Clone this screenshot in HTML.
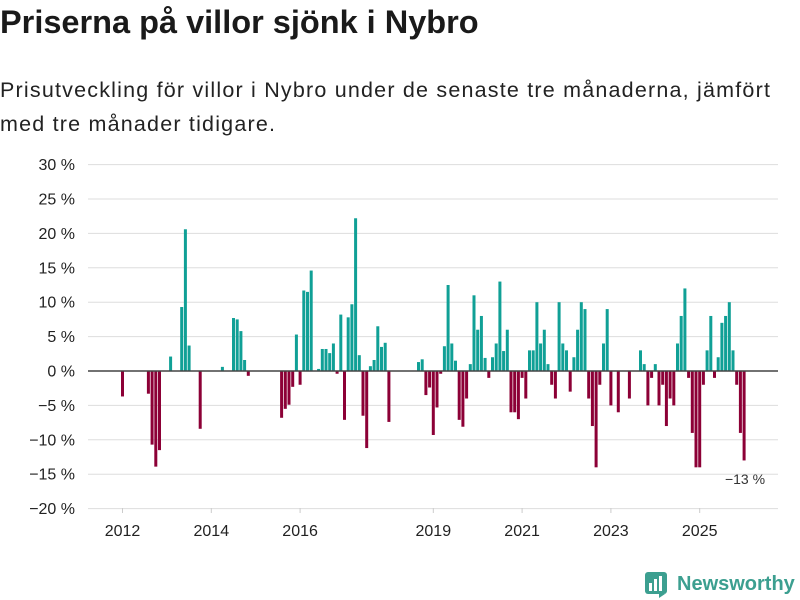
<!DOCTYPE html>
<html><head><meta charset="utf-8"><style>
body{margin:0;width:800px;height:600px;background:#fff;font-family:"Liberation Sans",sans-serif;color:#222;overflow:hidden;position:relative}
#title{position:absolute;left:0;top:4px;font-size:32.5px;font-weight:bold;margin:0;color:#1a1a1a}
#sub{position:absolute;left:0;top:73px;font-size:21.5px;line-height:34px;width:790px;color:#222;letter-spacing:1.2px}
svg{position:absolute;left:0;top:0}
</style></head><body>
<h1 id="title">Priserna på villor sjönk i Nybro</h1>
<div id="sub">Prisutveckling för villor i Nybro under de senaste tre månaderna, jämfört med tre månader tidigare.</div>
<svg id="chart" width="800" height="600"></svg>
<script>
const monthIndex=[0,7,8,9,10,13,16,17,18,21,27,30,31,32,33,34,43,44,45,46,47,48,49,50,51,53,54,55,56,57,58,59,60,61,62,63,64,65,66,67,68,69,70,71,72,80,81,82,83,84,85,86,87,88,89,90,91,92,93,94,95,96,97,98,99,100,101,102,103,104,105,106,107,108,109,110,111,112,113,114,115,116,117,118,119,120,121,122,123,124,125,126,127,128,129,130,131,132,134,137,140,141,142,143,144,145,146,147,148,149,150,151,152,153,154,155,156,157,158,159,160,161,162,163,164,165,166,167,168];
const values=[-3.7,-3.3,-10.7,-13.9,-11.5,2.1,9.3,20.6,3.7,-8.4,0.6,7.7,7.5,5.8,1.6,-0.7,-6.8,-5.5,-4.9,-2.3,5.3,-2.0,11.7,11.5,14.6,0.3,3.2,3.2,2.6,4.0,-0.4,8.2,-7.1,7.8,9.7,22.2,2.3,-6.5,-11.2,0.7,1.6,6.5,3.5,4.1,-7.4,1.3,1.7,-3.5,-2.4,-9.3,-5.3,-0.4,3.6,12.5,4.0,1.5,-7.1,-8.1,-4.0,1.0,11.0,6.0,8.0,1.9,-1.0,2.0,4.0,13.0,2.9,6.0,-6.0,-6.0,-7.0,-1.0,-4.0,3.0,3.0,10.0,4.0,6.0,1.0,-2.0,-4.0,10.0,4.0,3.0,-3.0,2.0,6.0,10.0,9.0,-4.0,-8.0,-14.0,-2.0,4.0,9.0,-5.0,-6.0,-4.0,3.0,1.0,-5.0,-1.0,1.0,-5.0,-2.0,-8.0,-4.0,-5.0,4.0,8.0,12.0,-1.0,-9.0,-14.0,-14.0,-2.0,3.0,8.0,-1.0,2.0,7.0,8.0,10.0,3.0,-2.0,-9.0,-13.0];
const yTicks=[30,25,20,15,10,5,0,-5,-10,-15,-20];
const xLabels=["2012","2014","2016","2019","2021","2023","2025"];
const xLabelMonths=[0,24,48,84,108,132,156];
const NS="http://www.w3.org/2000/svg",svg=document.getElementById('chart');
const y=v=>371-v*6.88, x=i=>122.5+i*3.7;
function mk(t,a){const e=document.createElementNS(NS,t);for(const k in a)e.setAttribute(k,a[k]);svg.appendChild(e);return e;}
yTicks.forEach(t=>{
 const l=mk('line',{x1:88,x2:778,y1:y(t),y2:y(t),stroke:'#ddd','stroke-width':1});
 
 
 const tx=mk('text',{x:75,y:y(t)+5.5,'text-anchor':'end','font-size':16,fill:'#222'});
 tx.textContent=(t<0?'\u2212'+(-t):t)+' %';
 
 
});
xLabels.forEach((s,k)=>{
 const tx=mk('text',{x:x(xLabelMonths[k]),y:536,'text-anchor':'middle','font-size':16,fill:'#222'});
 tx.textContent=s;
 
 
 const tk=mk('line',{x1:x(xLabelMonths[k]),x2:x(xLabelMonths[k]),y1:508,y2:513,stroke:'#ccc'});
 
 
});
monthIndex.forEach((m,k)=>{
 const v=values[k];
 const r=mk('rect',{x:x(m)-1.5,width:3,y:Math.min(y(v),y(0)),height:Math.abs(y(v)-y(0)),fill:v>=0?'#10a096':'#8c0036'});
 
 
});
const z=mk('line',{x1:88,x2:778,y1:y(0),y2:y(0),stroke:'#444','stroke-width':1.5});


const lastV=values[values.length-1];
const an=mk('text',{x:745,y:484,'text-anchor':'middle','font-size':14,fill:'#333'});
an.textContent=(lastV<0?'\u2212'+(-lastV):lastV)+' %';


</script>
<div style="position:absolute;left:645px;top:570px;display:flex;align-items:center">
<svg width="24" height="28" style="position:static"><rect x="0" y="2" width="22" height="22" rx="3" fill="#3c9f90"/><rect x="4" y="13" width="3" height="8" fill="#fff"/><rect x="9" y="9" width="3" height="12" fill="#fff"/><rect x="14" y="6" width="3" height="15" fill="#fff"/><polygon points="14,24 20,24 14,28" fill="#3c9f90"/></svg>
<span style="font-size:20px;font-weight:bold;color:#3c9f90;margin-left:8px">Newsworthy</span></div>
</body></html>
